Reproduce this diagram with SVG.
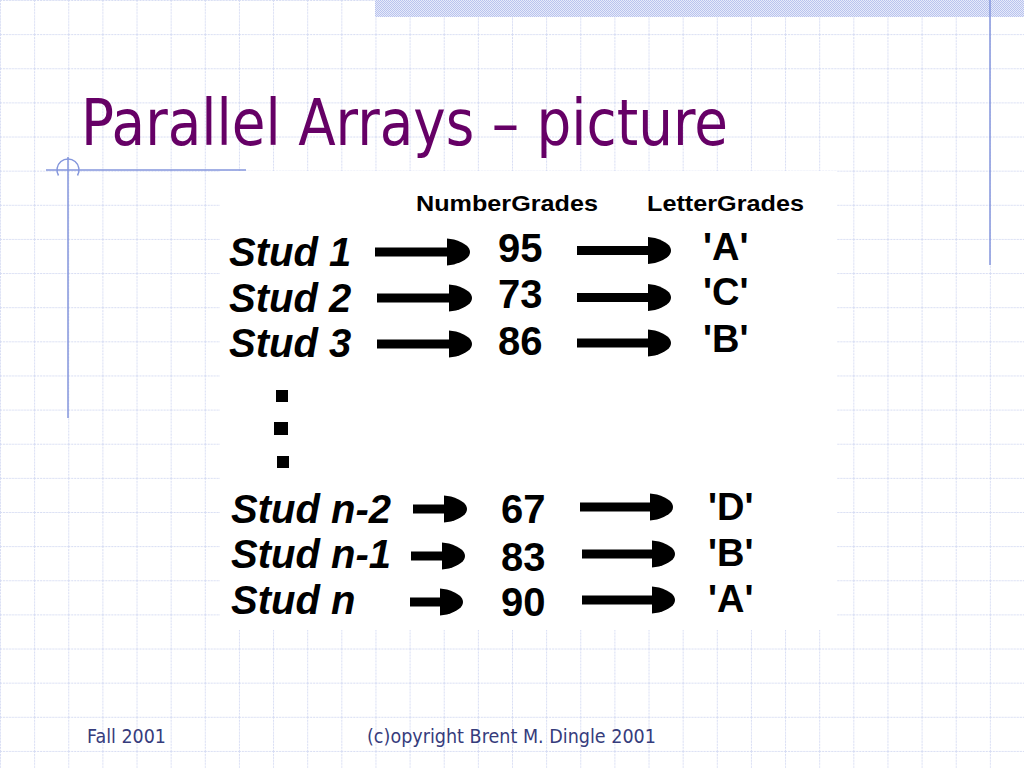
<svg xmlns="http://www.w3.org/2000/svg" width="1024" height="768" viewBox="0 0 1024 768">
<defs>
<pattern id="grid" width="34.1333" height="34.1333" patternUnits="userSpaceOnUse">
<path d="M0 0.5 H34.1333 M0.5 0 V34.1333" fill="none" stroke="#d6dcf3" stroke-width="1" stroke-dasharray="2 1"/>
</pattern>
<pattern id="checker" width="2" height="2" patternUnits="userSpaceOnUse">
<rect width="2" height="2" fill="#e6eafa"/>
<rect width="1" height="1" fill="#b9c3ee"/>
<rect x="1" y="1" width="1" height="1" fill="#b9c3ee"/>
</pattern>
<marker id="head" markerUnits="userSpaceOnUse" viewBox="-25 -15 27 30" markerWidth="27" markerHeight="30" refX="-15" refY="0" orient="auto">
<path d="M-23,-13.5 L-16,-12.5 C-5,-9 0,-5 0,0 C0,5 -5,9 -16,12.5 L-23,13.5 Z" fill="#000"/>
</marker>
<style>
.deco{fill:none;stroke:#8496dc;stroke-width:1.5}
.title{font-family:"DejaVu Sans","Liberation Sans",sans-serif;font-size:64px;fill:#660066}
.foot{font-family:"DejaVu Sans","Liberation Sans",sans-serif;font-size:19px;fill:#363c7c}
.hdr{font-family:"Liberation Sans",Arial,sans-serif;font-weight:bold;font-size:22px;fill:#000}
.stud{font-family:"Liberation Sans",Arial,sans-serif;font-weight:bold;font-style:italic;font-size:40px;fill:#000}
.num{font-family:"Liberation Sans",Arial,sans-serif;font-weight:bold;font-size:40px;fill:#000}
.let{font-family:"Liberation Sans",Arial,sans-serif;font-weight:bold;font-size:38px;fill:#000}
.arr{fill:none;stroke:#000;stroke-width:9;marker-end:url(#head)}
</style>
</defs>
<g id="background">
<rect width="1024" height="768" fill="#ffffff"/>
<rect width="1024" height="768" fill="url(#grid)"/>
<rect x="375" y="0" width="649" height="17" fill="url(#checker)"/>
<line class="deco" x1="990" y1="0" x2="990" y2="265"/>
<line class="deco" x1="68" y1="157" x2="68" y2="418"/>
<line class="deco" x1="46" y1="170" x2="246" y2="170"/>
<path class="deco" d="M58.5,175.5 A11,11 0 1 1 77.5,175.5"/>
</g>
<g id="title">
<text class="title" x="81" y="145" textLength="647" lengthAdjust="spacingAndGlyphs">Parallel Arrays – picture</text>
</g>
<g id="picture">
<rect x="220" y="171" width="617" height="459" fill="#ffffff"/>
</g>
<g id="headers">
<text class="hdr" x="416" y="211" textLength="182" lengthAdjust="spacingAndGlyphs">NumberGrades</text>
<text class="hdr" x="647" y="211" textLength="157" lengthAdjust="spacingAndGlyphs">LetterGrades</text>
</g>
<g id="students">
<text class="stud" x="229" y="266">Stud 1</text>
<text class="stud" x="229" y="312">Stud 2</text>
<text class="stud" x="229" y="357">Stud 3</text>
<text class="stud" x="231" y="523">Stud n-2</text>
<text class="stud" x="231" y="568">Stud n-1</text>
<text class="stud" x="231" y="614">Stud n</text>
</g>
<g id="numbergrades">
<text class="num" x="498" y="262">95</text>
<text class="num" x="498" y="308">73</text>
<text class="num" x="498" y="355">86</text>
<text class="num" x="501" y="523">67</text>
<text class="num" x="501" y="571">83</text>
<text class="num" x="501" y="616">90</text>
</g>
<g id="lettergrades">
<text class="let" x="703" y="260">'A'</text>
<text class="let" x="703" y="305">'C'</text>
<text class="let" x="703" y="352">'B'</text>
<text class="let" x="708" y="520">'D'</text>
<text class="let" x="708" y="566">'B'</text>
<text class="let" x="708" y="612">'A'</text>
</g>
<g id="ellipsis" fill="#000">
<rect x="276" y="390" width="12" height="12"/>
<rect x="274" y="422" width="14" height="13"/>
<rect x="277" y="456" width="12" height="12"/>
</g>
<g id="connectors">
<line class="arr" x1="375" y1="252" x2="455" y2="252"/>
<line class="arr" x1="577" y1="250.5" x2="656" y2="250.5"/>
<line class="arr" x1="377" y1="298" x2="457" y2="298"/>
<line class="arr" x1="577" y1="297.5" x2="656" y2="297.5"/>
<line class="arr" x1="377" y1="344" x2="457" y2="344"/>
<line class="arr" x1="577" y1="343" x2="656" y2="343"/>
<line class="arr" x1="413" y1="509" x2="452" y2="509"/>
<line class="arr" x1="580" y1="507" x2="658" y2="507"/>
<line class="arr" x1="411" y1="556" x2="450" y2="556"/>
<line class="arr" x1="582" y1="554" x2="660" y2="554"/>
<line class="arr" x1="410" y1="602" x2="448" y2="602"/>
<line class="arr" x1="582" y1="600" x2="660" y2="600"/>
</g>
<g id="footer">
<text class="foot" x="87" y="743" textLength="79" lengthAdjust="spacingAndGlyphs">Fall 2001</text>
<text class="foot" x="367" y="743" textLength="289" lengthAdjust="spacingAndGlyphs">(c)opyright Brent M. Dingle 2001</text>
</g>
</svg>
